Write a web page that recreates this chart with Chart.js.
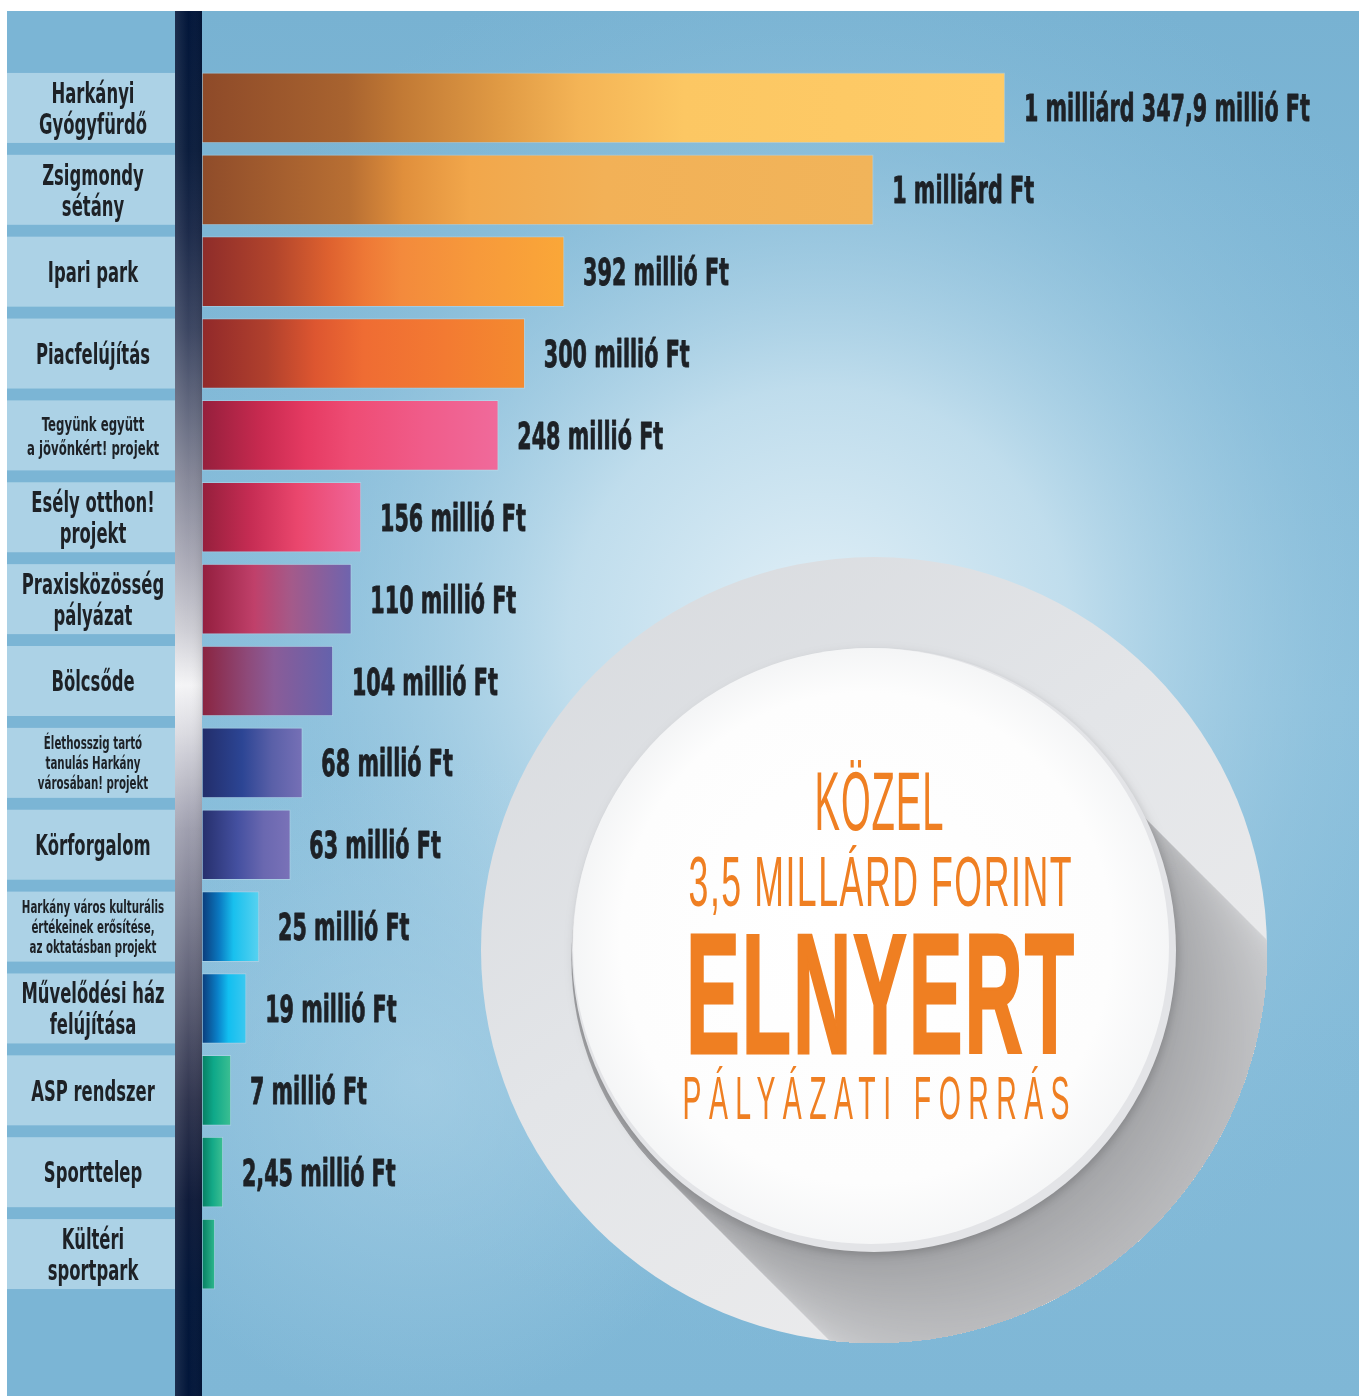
<!DOCTYPE html>
<html lang="hu">
<head>
<meta charset="utf-8">
<title>Elnyert pályázati források</title>
<script src="https://cdn.jsdelivr.net/npm/chart.js@4.4.1/dist/chart.umd.min.js"></script>
<style>
    html, body { margin: 0; padding: 0; background: #ffffff; }
    #grafikon { display: block; }
</style>
</head>
<body>
<canvas id="grafikon" width="1359" height="1396"></canvas>
<script>
// Projektek (fentről lefelé)
const kategoriak = [
    ['Harkányi', 'Gyógyfürdő'],
    ['Zsigmondy', 'sétány'],
    ['Ipari park'],
    ['Piacfelújítás'],
    ['Tegyünk együtt', 'a jövőnkért! projekt'],
    ['Esély otthon!', 'projekt'],
    ['Praxisközösség', 'pályázat'],
    ['Bölcsőde'],
    ['Élethosszig tartó', 'tanulás Harkány', 'városában! projekt'],
    ['Körforgalom'],
    ['Harkány város kulturális', 'értékeinek erősítése,', 'az oktatásban projekt'],
    ['Művelődési ház', 'felújítása'],
    ['ASP rendszer'],
    ['Sporttelep'],
    ['Kültéri', 'sportpark']
];

// Elnyert összegek, millió Ft (a legalsónál nincs felirat)
const ertekekMillioFt = [1347.9, 1000, 392, 300, 248, 156, 110, 104, 68, 63, 25, 19, 7, 2.45, null];

const ertekFeliratok = [
    '1 milliárd 347,9 millió Ft', '1 milliárd Ft', '392 millió Ft', '300 millió Ft',
    '248 millió Ft', '156 millió Ft', '110 millió Ft', '104 millió Ft', '68 millió Ft',
    '63 millió Ft', '25 millió Ft', '19 millió Ft', '7 millió Ft', '2,45 millió Ft', ''
];

// A sávok hossza a képen (a leghosszabb sáv %-ában) - nem arányos az összegekkel
const savHossz = [100, 83.6, 45.1, 40.2, 36.9, 19.8, 18.6, 16.3, 12.5, 11.0, 7.1, 5.5, 3.6, 2.6, 1.6];

const korSzovegek = ['KÖZEL', '3,5 MILLÁRD FORINT', 'ELNYERT', 'PÁLYÁZATI FORRÁS'];

// Színátmenetek sávonként (balról jobbra)
const savSzinek = [
    [[0, '#8e4a29'], [0.18, '#a8632f'], [0.25, '#c27a35'], [0.37, '#e09a44'], [0.47, '#f4b456'], [0.6, '#fcc763'], [1, '#fecb67']],
    [[0, '#8f4c2a'], [0.22, '#b86f33'], [0.3, '#e08f3c'], [0.4, '#f2a74b'], [0.6, '#f2b157'], [1, '#f1b45a']],
    [[0, '#8e2c2a'], [0.2, '#b2452c'], [0.35, '#de612f'], [0.45, '#ee7836'], [0.55, '#f38a3c'], [0.75, '#f7993b'], [1, '#faa738']],
    [[0, '#91292a'], [0.2, '#b0402d'], [0.35, '#dd5630'], [0.5, '#ef6c33'], [0.75, '#f37a32'], [1, '#f48a2f']],
    [[0, '#951f3c'], [0.2, '#c82a50'], [0.35, '#e53a62'], [0.5, '#ee4c74'], [0.75, '#f05c8a'], [1, '#f06a9b']],
    [[0, '#951f3c'], [0.3, '#c52c53'], [0.6, '#ea466d'], [1, '#f06699']],
    [[0, '#931e3e'], [0.35, '#c0406a'], [0.6, '#a45a8a'], [1, '#6e64ae']],
    [[0, '#8a2440'], [0.35, '#8e4a7a'], [0.55, '#8a5c98'], [1, '#6462ac']],
    [[0, '#222d6a'], [0.4, '#2c4594'], [0.7, '#5a60a8'], [1, '#7670b6']],
    [[0, '#262f6c'], [0.4, '#4450a0'], [0.7, '#6a68b0'], [1, '#7a72b8']],
    [[0, '#0b3b7a'], [0.3, '#0a78c0'], [0.55, '#18c0ee'], [1, '#58d2f0']],
    [[0, '#0b3b7a'], [0.35, '#0a80c8'], [0.6, '#12bff0'], [1, '#3cc8f0']],
    [[0, '#077e62'], [0.4, '#0ea889'], [1, '#3cbf92']],
    [[0, '#077e62'], [0.5, '#14a987'], [1, '#3cbf92']],
    [[0, '#077e62'], [1, '#2db98e']]
];

const NARANCS = '#ef7f22';
const SOTET_SZOVEG = '#1d2126';

function savSzin(context) {
    const chart = context.chart;
    const { ctx, chartArea, scales } = chart;
    if (!chartArea) return null;
    const i = context.dataIndex;
    const x0 = scales.x.getPixelForValue(0);
    const x1 = scales.x.getPixelForValue(savHossz[i]);
    const g = ctx.createLinearGradient(x0, 0, x1, 0);
    savSzinek[i].forEach(([p, c]) => g.addColorStop(p, c));
    return g;
}

// szöveg vízszintesen összenyomva (keskeny betűtípus helyett)
function keskenySzoveg(ctx, szoveg, x, y, font, sx, igazitas, vastagitas) {
    ctx.save();
    ctx.font = font;
    ctx.translate(x, y);
    ctx.scale(sx, 1);
    ctx.textAlign = igazitas;
    ctx.textBaseline = 'alphabetic';
    ctx.fillText(szoveg, 0, 0);
    if (vastagitas) {
        ctx.lineWidth = vastagitas;
        ctx.lineJoin = 'round';
        ctx.strokeStyle = ctx.fillStyle;
        ctx.strokeText(szoveg, 0, 0);
    }
    ctx.restore();
}

// szöveg adott szélességre illesztve, középre
function illesztettSzoveg(ctx, szoveg, cx, alapvonal, font, szelesseg, betukoz, vastagitas) {
    ctx.save();
    ctx.font = font;
    ctx.letterSpacing = (betukoz || 0) + 'px';
    const w = ctx.measureText(szoveg).width - (betukoz || 0);
    const sx = szelesseg / w;
    ctx.translate(cx - szelesseg / 2, alapvonal);
    ctx.scale(sx, 1);
    ctx.textAlign = 'left';
    ctx.textBaseline = 'alphabetic';
    ctx.fillText(szoveg, 0, 0);
    if (vastagitas) {
        ctx.lineWidth = vastagitas;
        ctx.lineJoin = 'miter';
        ctx.strokeStyle = ctx.fillStyle;
        ctx.strokeText(szoveg, 0, 0);
    }
    ctx.restore();
}

function keverSzin(a, b, t) {
    const r = Math.round(a[0] + (b[0] - a[0]) * t);
    const g = Math.round(a[1] + (b[1] - a[1]) * t);
    const bl = Math.round(a[2] + (b[2] - a[2]) * t);
    return `rgb(${r},${g},${bl})`;
}

function rajzolKor(ctx) {
    const cx = 874, cy = 950, R = 393, r = 302;

    // külső szürke korong
    ctx.save();
    ctx.beginPath();
    ctx.arc(cx, cy, R, 0, Math.PI * 2);
    const og = ctx.createLinearGradient(cx - R, cy - R, cx + R * 0.4, cy + R);
    og.addColorStop(0, '#d6d9dd');
    og.addColorStop(0.5, '#e3e5e8');
    og.addColorStop(1, '#ececed');
    ctx.fillStyle = og;
    ctx.fill();

    // hosszú árnyék 45 fokban, a külső korongra vágva
    ctx.clip();
    const sotet = [158, 159, 162], vilagos = [224, 225, 227];
    for (let s = 800; s >= 0; s -= 3) {
        const t = Math.pow(Math.min(s / 340, 1), 0.75);
        ctx.beginPath();
        ctx.arc(cx - 8 + s * 0.7071, cy + 8 + s * 0.7071, r - 6, 0, Math.PI * 2);
        ctx.fillStyle = keverSzin(sotet, vilagos, t);
        ctx.fill();
    }
    ctx.restore();

    // belső fehér korong peremmel
    ctx.save();
    ctx.shadowColor = 'rgba(0,0,0,0.16)';
    ctx.shadowBlur = 8;
    ctx.shadowOffsetX = 2;
    ctx.shadowOffsetY = 3;
    ctx.beginPath();
    ctx.arc(cx, cy, r, 0, Math.PI * 2);
    ctx.fillStyle = '#e3e4e7';
    ctx.fill();
    ctx.restore();

    ctx.save();
    ctx.beginPath();
    ctx.arc(cx - 3, cy - 4, r - 4, 0, Math.PI * 2);
    const fg = ctx.createRadialGradient(cx - 40, cy - 60, 20, cx, cy, r);
    fg.addColorStop(0, '#ffffff');
    fg.addColorStop(0.8, '#fdfdfd');
    fg.addColorStop(1, '#f4f5f6');
    ctx.fillStyle = fg;
    ctx.fill();
    ctx.restore();

    // szövegek
    ctx.save();
    ctx.fillStyle = NARANCS;
    illesztettSzoveg(ctx, korSzovegek[0], 879, 830, '84px "Liberation Sans"', 129, 2);
    illesztettSzoveg(ctx, korSzovegek[1], 880, 906, '70px "Liberation Sans"', 383, 3);
    illesztettSzoveg(ctx, korSzovegek[2], 880, 1053, 'bold 170px "Liberation Sans"', 388, 4, 3);
    illesztettSzoveg(ctx, korSzovegek[3], 876, 1119, '61px "Liberation Sans"', 387, 16);
    ctx.restore();
}

const hatterPlugin = {
    id: 'hatter',
    beforeDraw(chart) {
        const { ctx, width, height } = chart;
        const y = chart.scales.y;
        const L = 7, T = 11;
        ctx.save();
        ctx.fillStyle = '#ffffff';
        ctx.fillRect(0, 0, width, height);

        // kék háttér
        const lg = ctx.createLinearGradient(0, T, 0, height);
        lg.addColorStop(0, '#78b2d2');
        lg.addColorStop(0.5, '#88bedb');
        lg.addColorStop(1, '#7fb7d6');
        ctx.fillStyle = lg;
        ctx.fillRect(L, T, width - L, height - T);

        const rg = ctx.createRadialGradient(820, 640, 0, 820, 640, 720);
        rg.addColorStop(0, 'rgba(228,241,248,1)');
        rg.addColorStop(0.35, 'rgba(202,227,240,0.85)');
        rg.addColorStop(0.7, 'rgba(160,203,226,0.35)');
        rg.addColorStop(1, 'rgba(136,190,219,0)');
        ctx.fillStyle = rg;
        ctx.fillRect(L, T, width - L, height - T);

        const rg2 = ctx.createRadialGradient(420, 1080, 0, 420, 1080, 330);
        rg2.addColorStop(0, 'rgba(180,215,234,0.55)');
        rg2.addColorStop(1, 'rgba(180,215,234,0)');
        ctx.fillStyle = rg2;
        ctx.fillRect(L, T, width - L, height - T);

        // bal oldali feliratoszlop
        ctx.fillStyle = '#7bb5d5';
        ctx.fillRect(L, T, 168, height - T);
        ctx.fillStyle = '#acd2e6';
        kategoriak.forEach((_, i) => {
            const yc = y.getPixelForValue(i);
            ctx.fillRect(L, yc - 35, 168, 70);
        });

        // sötét függőleges sáv
        const vg = ctx.createLinearGradient(0, T, 0, height);
        const fs = [[11, '#02163a'], [150, '#0b1d3d'], [230, '#1c2a4a'], [330, '#3c4662'], [480, '#868899'],
                    [560, '#a9a9b6'], [630, '#cdcdd4'], [685, '#f4f4f6'], [730, '#dcdce2'], [830, '#9e9eae'],
                    [1000, '#5a5c72'], [1100, '#30354f'], [1200, '#0f1b3a'], [1290, '#03173a'], [1396, '#02163a']];
        fs.forEach(([py, c]) => vg.addColorStop((py - T) / (height - T), c));
        ctx.fillStyle = vg;
        ctx.fillRect(175, T, 27, height - T);
        const hg = ctx.createLinearGradient(175, 0, 202, 0);
        hg.addColorStop(0, 'rgba(255,255,255,0.10)');
        hg.addColorStop(0.5, 'rgba(255,255,255,0)');
        hg.addColorStop(1, 'rgba(0,0,0,0.08)');
        ctx.fillStyle = hg;
        ctx.fillRect(175, T, 27, height - T);

        rajzolKor(ctx);
        ctx.restore();
    }
};

const feliratPlugin = {
    id: 'feliratok',
    afterDatasetsDraw(chart) {
        const { ctx } = chart;
        const x = chart.scales.x, y = chart.scales.y;
        ctx.save();
        ctx.fillStyle = SOTET_SZOVEG;

        // kategória feliratok
        ctx.font = 'bold 28px "DejaVu Sans"';
        const cimkeSx = 83 / ctx.measureText('Harkányi').width;
        chart.data.labels.forEach((sorok, i) => {
            let meret = 28, koz = 31;
            if (sorok.length >= 3) { meret = 17.5; koz = 20; }
            else if (Math.max(...sorok.map(s => s.length)) > 15) { meret = 20; koz = 24; }
            const yc = y.getPixelForValue(i);
            const cap = meret * 0.729;
            sorok.forEach((sor, j) => {
                const by = yc + (j - (sorok.length - 1) / 2) * koz + cap / 2;
                keskenySzoveg(ctx, sor, 93, by, `bold ${meret}px "DejaVu Sans"`, cimkeSx, 'center');
            });
        });

        // érték feliratok
        const ertekFont = 'bold 37px "DejaVu Sans"';
        ctx.font = ertekFont;
        const ertekSx = 286 / ctx.measureText(ertekFeliratok[0]).width;
        chart.data.datasets[0].data.forEach((v, i) => {
            if (!ertekFeliratok[i]) return;
            const px = x.getPixelForValue(v) + 19;
            const yc = y.getPixelForValue(i);
            keskenySzoveg(ctx, ertekFeliratok[i], px, yc + 13.5, ertekFont, ertekSx, 'left', 0.9);
        });
        ctx.restore();
    }
};

const ctx = document.getElementById('grafikon').getContext('2d');
new Chart(ctx, {
    type: 'bar',
    data: {
        labels: kategoriak,
        datasets: [{
            label: 'Elnyert összeg',
            data: savHossz,
            backgroundColor: savSzin,
            borderColor: 'rgba(255,255,255,0.22)',
            borderWidth: 1,
            borderSkipped: false,
            barThickness: 70
        }]
    },
    options: {
        indexAxis: 'y',
        responsive: false,
        animation: false,
        devicePixelRatio: 1,
        layout: { padding: { left: 202, right: 0, top: 67, bottom: 101 } },
        scales: {
            x: { display: false, min: 0, max: 144.1 },
            y: { display: false }
        },
        plugins: {
            legend: { display: false },
            tooltip: { enabled: false }
        }
    },
    plugins: [hatterPlugin, feliratPlugin]
});
</script>
</body>
</html>
